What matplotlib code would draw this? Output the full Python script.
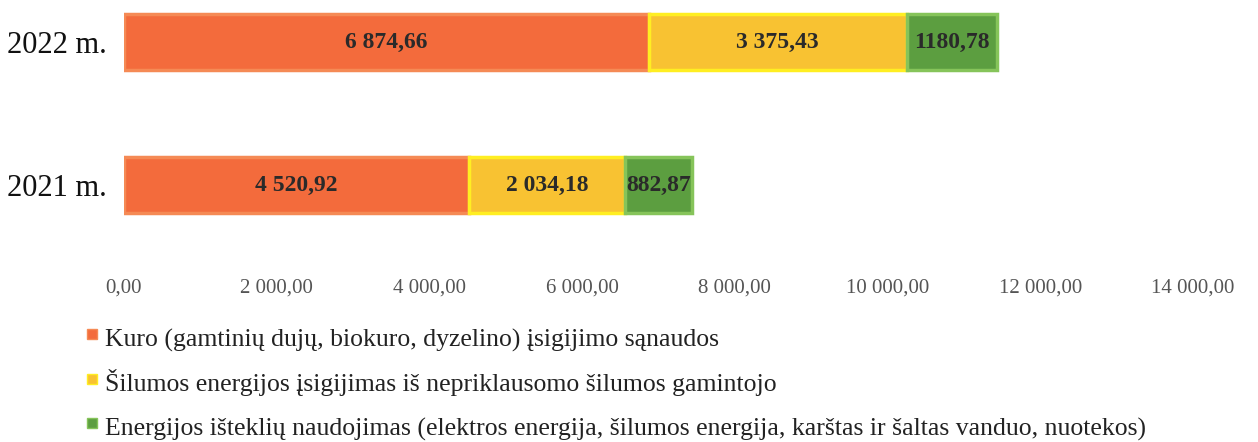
import matplotlib.pyplot as plt
from matplotlib.lines import Line2D

years = ["2021 m.", "2022 m."]
kuro = [4520.92, 6874.66]
silumos = [2034.18, 3375.43]
energijos = [882.87, 1180.78]
series_names = [
    "Kuro (gamtinių dujų, biokuro, dyzelino) įsigijimo sąnaudos",
    "Šilumos energijos įsigijimas iš nepriklausomo šilumos gamintojo",
    "Energijos išteklių naudojimas (elektros energija, šilumos energija, karštas ir šaltas vanduo, nuotekos)",
]
xticks = [0, 2000, 4000, 6000, 8000, 10000, 12000, 14000]
xtick_labels = ["0,00", "2 000,00", "4 000,00", "6 000,00", "8 000,00",
                "10 000,00", "12 000,00", "14 000,00"]


def fmt(v):
    # lithuanian style: space thousands, comma decimals (1180,78 has no space in source)
    s = f"{v:,.2f}".replace(",", " ").replace(".", ",")
    return s


labels_2021 = [fmt(kuro[0]), fmt(silumos[0]), fmt(energijos[0])]
labels_2022 = [fmt(kuro[1]), fmt(silumos[1]), "1180,78"]

plt.rcParams['font.family'] = ['Liberation Serif', 'DejaVu Serif']

fill = ["#F36B3C", "#F8C232", "#5C9E40"]
edge = ["#F58A55", "#FFEE22", "#86C45A"]

fig = plt.figure(figsize=(12.58, 4.42), dpi=100)
ax = fig.add_axes([124 / 1258, 1 - 260 / 442, (1193 - 124) / 1258, 260 / 442])

ypos = [0, 1]
h = 0.39
left = [0, 0]
all_labels = [labels_2021, labels_2022]
for i, vals in enumerate([kuro, silumos, energijos]):
    bars = ax.barh(ypos, vals, left=left, height=h, color=fill[i],
                   edgecolor=edge[i], linewidth=2.5)
    for j, b in enumerate(bars):
        ax.text(left[j] + vals[j] / 2, ypos[j], all_labels[j][i],
                ha="center", va="center", fontsize=17, fontweight="bold",
                color="#2a2a2a")
    left = [left[k] + vals[k] for k in range(2)]

ax.set_xlim(0, 14000)
ax.set_ylim(-0.524, 1.294)
ax.set_xticks(xticks)
ax.set_xticklabels(xtick_labels, fontsize=15, color="#555555")
ax.set_yticks(ypos)
ax.set_yticklabels(years, fontsize=22, color="#111111")
ax.tick_params(axis="both", length=0)
ax.tick_params(axis="x", pad=13)
ax.tick_params(axis="y", pad=12.5)
for s in ax.spines.values():
    s.set_visible(False)

handles = [Line2D([], [], marker="s", linestyle="none", markersize=7,
                  markerfacecolor=fill[i], markeredgecolor=edge[i])
           for i in range(3)]
fig.legend(handles, series_names, loc="upper left",
           bbox_to_anchor=(86 / 1258, 1 - 322 / 442), frameon=False,
           fontsize=18.5, handlelength=0.5, handletextpad=0.25,
           handleheight=1.5, labelspacing=0.52, borderpad=0,
           borderaxespad=0, labelcolor="#222222")

fig.savefig("out.png", dpi=100)
